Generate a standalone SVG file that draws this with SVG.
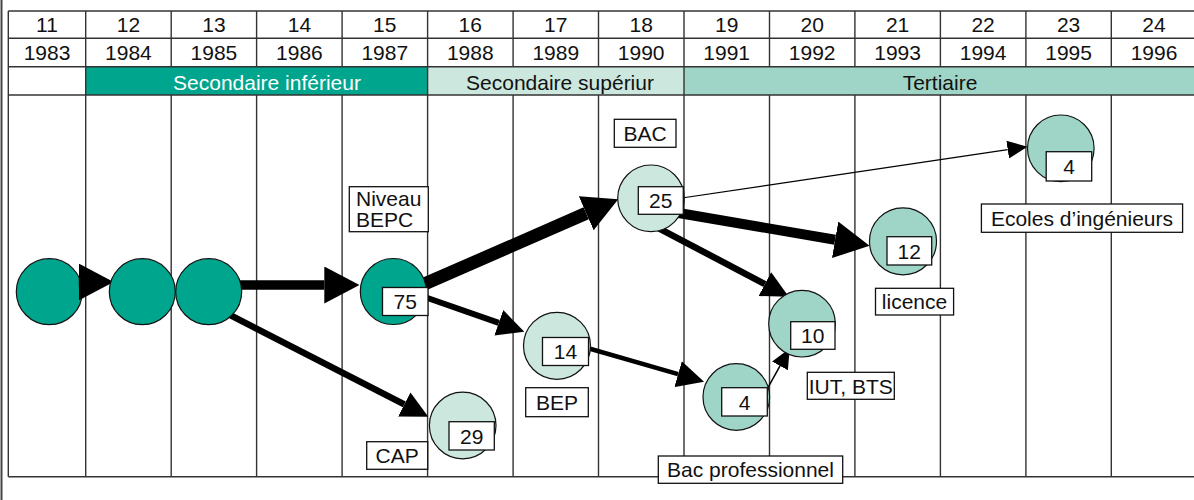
<svg xmlns="http://www.w3.org/2000/svg" width="1194" height="500" viewBox="0 0 1194 500">
<style>
.bg{fill:#fff}
.grid{stroke:#333;stroke-width:1.4;fill:none}
.t{font-family:"Liberation Sans",Arial,sans-serif;font-size:21px;fill:#111}
.m{text-anchor:middle}
.w{fill:#fff}
.dark{fill:#00A58D;stroke:#111;stroke-width:1.2}
.light{fill:#CCE7DD;stroke:#111;stroke-width:1.2}
.mid{fill:#9FD5C7;stroke:#111;stroke-width:1.2}
.box{fill:#fff;stroke:#111;stroke-width:1.3}
.cn{stroke:#000;fill:none}
</style>
<defs>
<marker id="ahB" markerUnits="userSpaceOnUse" markerWidth="35" markerHeight="37" viewBox="0 0 35 37" refX="0" refY="18.5" orient="auto"><path d="M0,0 L35,18.5 L0,37 z" fill="#000"/></marker>
<marker id="ahM" markerUnits="userSpaceOnUse" markerWidth="27" markerHeight="27" viewBox="0 0 27 27" refX="0" refY="13.5" orient="auto"><path d="M0,0 L27,13.5 L0,27 z" fill="#000"/></marker>
<marker id="ahS" markerUnits="userSpaceOnUse" markerWidth="20" markerHeight="18" viewBox="0 0 20 18" refX="0" refY="9" orient="auto"><path d="M0,0 L20,9 L0,18 z" fill="#000"/></marker>
</defs>
<rect class="bg" x="0" y="0" width="1194" height="500"/>
<line x1="1.5" y1="0" x2="1.5" y2="500" stroke="#444" stroke-width="2"/>

<g id="table">
<rect x="85.7" y="66.7" width="341.9" height="28.3" fill="#00A58D"/>
<rect x="427.6" y="66.7" width="256.4" height="28.3" fill="#CCE7DD"/>
<rect x="684" y="66.7" width="512" height="28.3" fill="#9FD5C7"/>
<g class="grid">
<line x1="8.3" y1="11" x2="1194" y2="11"/>
<line x1="8.3" y1="38.3" x2="1194" y2="38.3"/>
<line x1="8.3" y1="66.7" x2="1194" y2="66.7"/>
<line x1="8.3" y1="95" x2="1194" y2="95"/>
<line x1="8.3" y1="476.7" x2="1194" y2="476.7"/>
<path d="M8.3,11V476.7 M85.7,11V476.7 M427.6,11V476.7 M684,11V476.7"/>
<path d="M171.2,11V66.7 M256.6,11V66.7 M342.1,11V66.7 M513.1,11V66.7 M598.5,11V66.7 M769.5,11V66.7 M854.9,11V66.7 M940.4,11V66.7 M1025.9,11V66.7 M1111.3,11V66.7"/>
<path d="M171.2,95V476.7 M256.6,95V476.7 M342.1,95V476.7 M513.1,95V476.7 M598.5,95V476.7 M769.5,95V476.7 M854.9,95V476.7 M940.4,95V476.7 M1025.9,95V476.7 M1111.3,95V476.7"/>
</g>
<g class="t m">
<text x="47" y="32.3">11</text>
<text x="128.4" y="32.3">12</text>
<text x="213.9" y="32.3">13</text>
<text x="299.4" y="32.3">14</text>
<text x="384.8" y="32.3">15</text>
<text x="470.3" y="32.3">16</text>
<text x="555.8" y="32.3">17</text>
<text x="641.2" y="32.3">18</text>
<text x="726.7" y="32.3">19</text>
<text x="812.2" y="32.3">20</text>
<text x="897.6" y="32.3">21</text>
<text x="983.1" y="32.3">22</text>
<text x="1068.6" y="32.3">23</text>
<text x="1154" y="32.3">24</text>
<text x="47" y="60">1983</text>
<text x="128.4" y="60">1984</text>
<text x="213.9" y="60">1985</text>
<text x="299.4" y="60">1986</text>
<text x="384.8" y="60">1987</text>
<text x="470.3" y="60">1988</text>
<text x="555.8" y="60">1989</text>
<text x="641.2" y="60">1990</text>
<text x="726.7" y="60">1991</text>
<text x="812.2" y="60">1992</text>
<text x="897.6" y="60">1993</text>
<text x="983.1" y="60">1994</text>
<text x="1068.6" y="60">1995</text>
<text x="1154" y="60">1996</text>
<text class="w" x="267" y="90">Secondaire inférieur</text>
<text x="560" y="90">Secondaire supériur</text>
<text x="940" y="90">Tertiaire</text>
</g>
</g>

<g id="n1"><circle class="dark" cx="49.3" cy="291.7" r="33"/></g>

<g id="connectors">
<line class="cn" stroke-width="9" x1="78.5" y1="282" x2="78.7" y2="282" marker-end="url(#ahB)"/>
<line class="cn" stroke-width="9.5" x1="208.7" y1="285" x2="324.3" y2="285" marker-end="url(#ahB)"/>
<line class="cn" stroke-width="6.5" x1="216.7" y1="308.2" x2="404.3" y2="404.4" marker-end="url(#ahM)"/>
<line class="cn" stroke-width="13" x1="407.7" y1="291.3" x2="586.2" y2="213.3" marker-end="url(#ahB)"/>
<line class="cn" stroke-width="6" x1="418.9" y1="295" x2="498.8" y2="322.8" marker-end="url(#ahM)"/>
<line class="cn" stroke-width="4.5" x1="578.7" y1="345.5" x2="678.1" y2="374.2" marker-end="url(#ahM)"/>
<line class="cn" stroke-width="1.5" x1="763.4" y1="395.8" x2="780" y2="365.9" marker-end="url(#ahS)"/>
<line class="cn" stroke-width="1.2" x1="671.6" y1="199.5" x2="1007.7" y2="149.6" marker-end="url(#ahS)"/>
<line class="cn" stroke-width="10" x1="669.9" y1="211.5" x2="835.1" y2="239.8" marker-end="url(#ahB)"/>
<line class="cn" stroke-width="6.5" x1="653.2" y1="225.3" x2="764.9" y2="284.1" marker-end="url(#ahM)"/>
</g>

<g id="n2"><circle class="dark" cx="142.3" cy="291.7" r="33"/></g>
<g id="n3"><circle class="dark" cx="208.7" cy="291.7" r="33"/></g>
<g id="n75"><circle class="dark" cx="393.3" cy="291.5" r="33"/><rect class="box" x="382.5" y="287.5" width="45.5" height="28"/><text class="t m" x="405.3" y="309">75</text></g>
<g id="n29"><circle class="light" cx="462.7" cy="425.5" r="33.3"/><rect class="box" x="449" y="421.7" width="45.3" height="28.3"/><text class="t m" x="471.7" y="443.5">29</text></g>
<g id="n14"><circle class="light" cx="557" cy="345.8" r="33.5"/><rect class="box" x="542.5" y="337.5" width="46" height="28"/><text class="t m" x="565.5" y="359">14</text></g>
<g id="n25"><circle class="light" cx="651" cy="198.3" r="33.3"/><rect class="box" x="638.3" y="186.7" width="45" height="27.6"/><text class="t m" x="660.8" y="208">25</text></g>
<g id="n4bp"><circle class="mid" cx="736.3" cy="397" r="33.3"/><rect class="box" x="721.7" y="387.7" width="45.6" height="28.3"/><text class="t m" x="744.5" y="409.5">4</text></g>
<g id="n10"><circle class="mid" cx="802" cy="323.7" r="33.3"/><rect class="box" x="790.7" y="321.7" width="44.3" height="27.6"/><text class="t m" x="812.8" y="343">10</text></g>
<g id="n12"><circle class="mid" cx="903" cy="241.3" r="33.5"/><rect class="box" x="887" y="236.7" width="44.7" height="28.3"/><text class="t m" x="909.3" y="258.5">12</text></g>
<g id="n4ei"><circle class="mid" cx="1060.8" cy="148.3" r="33.3"/><rect class="box" x="1046.2" y="151.7" width="45.5" height="29.3"/><text class="t m" x="1069" y="174">4</text></g>

<g id="l-bepc"><rect class="box" x="349.3" y="186.7" width="79" height="45"/><text class="t" x="356" y="206">Niveau</text><text class="t" x="356" y="227.3">BEPC</text></g>
<g id="l-bac"><rect class="box" x="614.3" y="119.3" width="61.7" height="28"/><text class="t m" x="645.2" y="141">BAC</text></g>
<g id="l-cap"><rect class="box" x="366.7" y="441.7" width="61" height="27.6"/><text class="t m" x="397.2" y="463">CAP</text></g>
<g id="l-bep"><rect class="box" x="525.7" y="387.7" width="62.6" height="29"/><text class="t m" x="557" y="410">BEP</text></g>
<g id="l-bacpro"><rect class="box" x="658.3" y="456" width="184.4" height="27.3"/><text class="t m" x="750.5" y="476.5">Bac professionnel</text></g>
<g id="l-iut"><rect class="box" x="807.3" y="372.3" width="87" height="27"/><text class="t m" x="850.8" y="393.5">IUT, BTS</text></g>
<g id="l-lic"><rect class="box" x="875.5" y="288.3" width="78.1" height="26.7"/><text class="t m" x="914.5" y="309">licence</text></g>
<g id="l-ecoles"><rect class="box" x="981.4" y="204" width="201.2" height="28.3"/><text class="t m" x="1082" y="225.5">Ecoles d’ingénieurs</text></g>
</svg>
